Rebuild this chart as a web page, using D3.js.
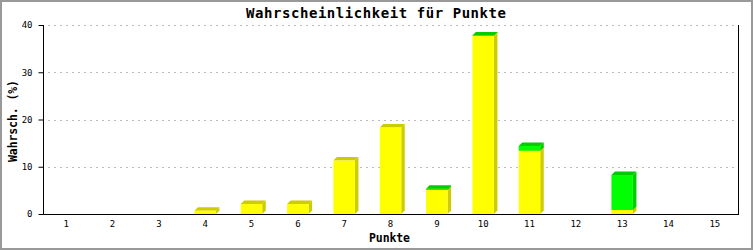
<!DOCTYPE html>
<html><head><meta charset="utf-8">
<script src="https://cdn.jsdelivr.net/npm/d3@7/dist/d3.min.js"></script>
<style>html,body{margin:0;padding:0;background:#fff;}svg{display:block;}</style>
</head><body>
<script>
const categories = ["1","2","3","4","5","6","7","8","9","10","11","12","13","14","15"];
const seriesYellow = [0,0,0,0.7,2.1,2.1,11.3,18.3,5.1,37.7,13.4,0,0.85,0,0];
const seriesGreen  = [0,0,0,0,0,0,0,0,0.25,0.1,1.0,0,7.4,0,0];
const yTicks = [0,10,20,30,40];
const titleText = "Wahrscheinlichkeit für Punkte";
const yTitle = "Wahrsch. (%)";
const xTitle = "Punkte";

(function(){
const W = 753, H = 250;
const pL = 43, pR = 738, pT = 25, pB = 214;
const depth = 3.5;

const svg = d3.select("body").append("svg").attr("width", W).attr("height", H);
svg.append("rect").attr("x",1).attr("y",1).attr("width",W-2).attr("height",H-2)
  .attr("fill","#fff").attr("stroke","#999").attr("stroke-width",2);

const x = d3.scaleBand().domain(categories).range([pL, pR]).paddingInner(0.536).paddingOuter(0.268);
const y = d3.scaleLinear().domain([0, 40]).range([pB, pT]);

const mono = "'DejaVu Sans Mono', 'Liberation Mono', monospace";

// grid
svg.append("g").selectAll("line").data(yTicks.filter(d => d > 0)).join("line")
  .attr("x1", pL + 5).attr("x2", pR).attr("y1", d => Math.round(y(d)) + 0.5).attr("y2", d => Math.round(y(d)) + 0.5)
  .attr("stroke", "#bbb").attr("stroke-width", 1).attr("stroke-dasharray", "2,4");

// bars
const stacks = d3.stack().keys(["yellow","green"])(categories.map((c,i) => ({cat:c, yellow: seriesYellow[i], green: seriesGreen[i]})));
const colors = {yellow: {front:"#ffff00", dark:"#cccc00"}, green: {front:"#00ff00", dark:"#00cc00"}};
const gBars = svg.append("g");
stacks.forEach(layer => {
  const col = colors[layer.key];
  layer.forEach((d, i) => {
    if (d[1] - d[0] <= 0) return;
    const x0 = x(categories[i]), x1 = x0 + x.bandwidth();
    const y0 = y(d[0]), y1 = y(d[1]);
    gBars.append("polygon")
      .attr("points", [[x1,y1],[x1+depth,y1-depth],[x1+depth,y0-depth],[x1,y0]].join(" "))
      .attr("fill", col.dark);
    gBars.append("polygon")
      .attr("points", [[x0,y1],[x0+depth,y1-depth],[x1+depth,y1-depth],[x1,y1]].join(" "))
      .attr("fill", col.dark);
    gBars.append("rect").attr("x", x0).attr("y", y1).attr("width", x1 - x0).attr("height", y0 - y1)
      .attr("fill", col.front);
  });
});

// axes
const yAxis = d3.axisLeft(y).tickValues(yTicks).tickSize(5).tickPadding(6).tickFormat(d3.format("d"));
const gy = svg.append("g").attr("transform", `translate(${pL + 0.5},0)`).call(yAxis);
gy.select(".domain").attr("stroke", "#000").attr("d", `M0,${pT}V${pB}`);
gy.selectAll(".tick line").attr("stroke", "#000");
gy.selectAll(".tick text").attr("font-family", mono).attr("font-size", "9px").attr("fill", "#000");

const xAxis = d3.axisBottom(x).tickSize(0).tickPadding(6);
const gx = svg.append("g").attr("transform", `translate(0,${pB + 0.5})`).call(xAxis);
gx.select(".domain").attr("stroke", "#000").attr("d", `M${pL},0H${pR}`);
gx.selectAll(".tick text").attr("font-family", mono).attr("font-size", "9px").attr("fill", "#000");

svg.append("line").attr("x1", pR + 0.5).attr("x2", pR + 0.5).attr("y1", pT).attr("y2", pB + 1)
  .attr("stroke", "#000");

// titles
svg.append("text").attr("x", 376).attr("y", 18).attr("text-anchor", "middle")
  .attr("font-family", mono).attr("font-weight", "bold").attr("font-size", "14px")
  .attr("textLength", 260).attr("lengthAdjust", "spacing").text(titleText);

svg.append("text").attr("transform", "translate(16.5,121) rotate(-90)").attr("text-anchor", "middle")
  .attr("font-family", mono).attr("font-weight", "bold").attr("font-size", "11.5px")
  .attr("textLength", 82).attr("lengthAdjust", "spacing").text(yTitle);

svg.append("text").attr("x", 389.5).attr("y", 242).attr("text-anchor", "middle")
  .attr("font-family", mono).attr("font-weight", "bold").attr("font-size", "11.5px")
  .attr("textLength", 41).attr("lengthAdjust", "spacing").text(xTitle);
})();
</script>
</body></html>
